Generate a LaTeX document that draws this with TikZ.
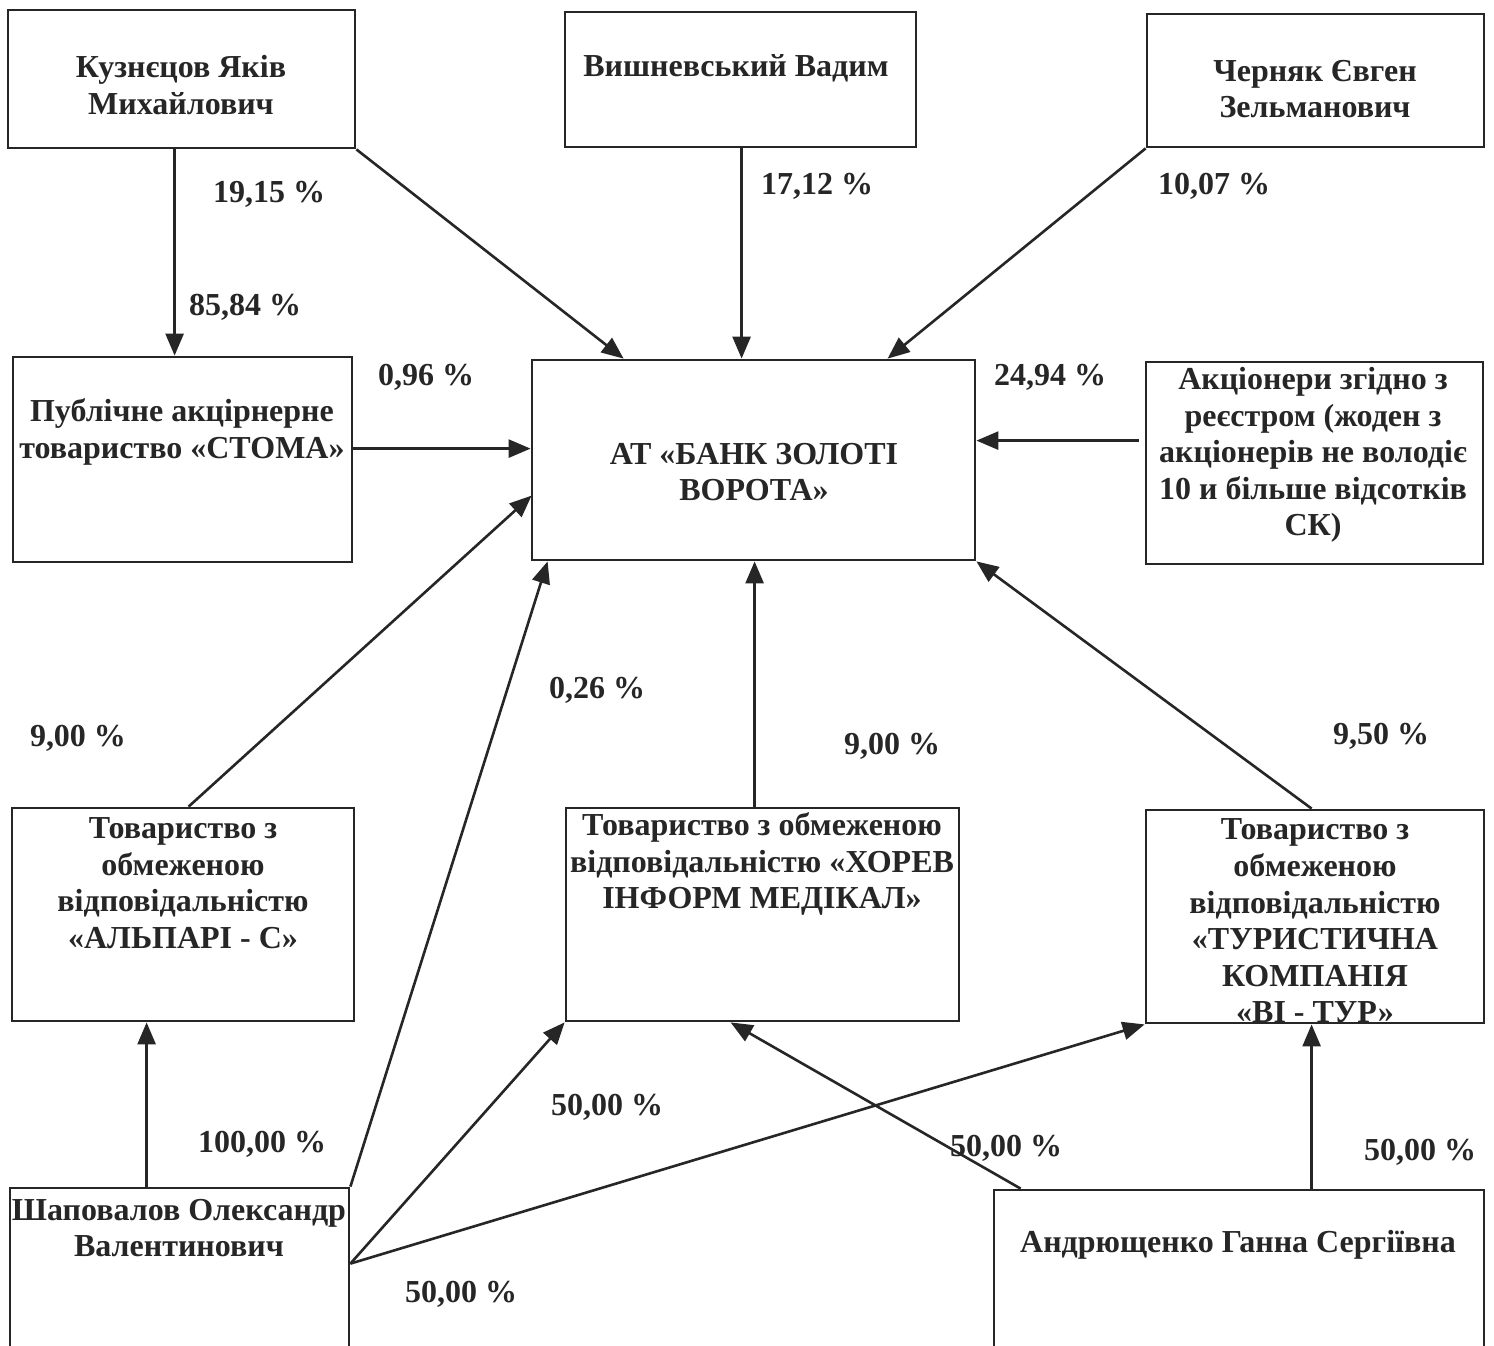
\documentclass[tikz,border=0pt]{standalone}
\usepackage{fontspec}
\setmainfont{Liberation Serif}
\usetikzlibrary{fit,calc,arrows.meta}
\begin{document}
\begin{tikzpicture}[x=0.5pt,y=-0.5pt,
  box/.style={draw=black!85, line width=1.4pt, inner sep=0pt},
  txt/.style={align=center, font=\bfseries\fontsize{16}{18.3}\selectfont, text=black!85, inner sep=0pt},
  pct/.style={font=\bfseries\fontsize{16}{18}\selectfont, text=black!85, inner sep=0pt},
  arr/.style={draw=black!85, line width=1.3pt, -{Triangle[length=11pt,width=9pt]}},
  ln/.style={draw=black!85, line width=1.3pt}]
\useasboundingbox (0,0) rectangle (1494,1345);
\fill[white] (0,0) rectangle (1494,1345);
% boxes
\node[box, fit={(8,10)(355,148)}] (kuz) {};
\node[box, fit={(565,12)(916,147)}] (vish) {};
\node[box, fit={(1147,14)(1484,147)}] (cher) {};
\node[box, fit={(13,357)(352,562)}] (stoma) {};
\node[box, fit={(532,360)(975,560)}] (bank) {};
\node[box, fit={(1146,362)(1483,564)}] (akc) {};
\node[box, fit={(12,808)(354,1021)}] (alp) {};
\node[box, fit={(566,808)(959,1021)}] (hor) {};
\node[box, fit={(1146,810)(1484,1023)}] (tur) {};
\node[box, fit={(10,1188)(349,1360)}] (shap) {};
\node[box, fit={(994,1190)(1484,1360)}] (andr) {};
% texts
\node[txt] (kuzT) at (181,85) {Кузнєцов Яків\\Михайлович};
\node[txt] (vishT) at (736,68) {Вишневський Вадим};
\node[txt] (cherT) at (1315,89) {Черняк Євген\\Зельманович};
\node[txt] (stomaT) at (182,432) {Публічне акцірнерне\\товариство «СТОМА»};
\node[txt] (bankT) at (754,472) {АТ «БАНК ЗОЛОТІ\\ВОРОТА»};
\node[txt] (akcT) at (1313,455) {Акціонери згідно з\\реєстром (жоден з\\акціонерів не володіє\\10 и більше відсотків\\СК)};
\node[txt] (alpT) at (183,883) {Товариство з\\обмеженою\\відповідальністю\\«АЛЬПАРІ - С»};
\node[txt] (horT) at (762,864) {Товариство з обмеженою\\відповідальністю «ХОРЕВ\\ІНФОРМ МЕДІКАЛ»};
\node[txt] (turT) at (1315,921) {Товариство з\\обмеженою\\відповідальністю\\«ТУРИСТИЧНА\\КОМПАНІЯ\\«ВІ - ТУР»};
\node[txt] (shapT) at (179,1228) {Шаповалов Олександр\\Валентинович};
\node[txt] (andrT) at (1238,1245) {Андрющенко Ганна Сергіївна};
% percentages
\node[pct] (p1) at (269,194) {19,15 \%};
\node[pct] (p2) at (245,307) {85,84 \%};
\node[pct] (p3) at (817,186) {17,12 \%};
\node[pct] (p4) at (1214,186) {10,07 \%};
\node[pct] (p5) at (426,377) {0,96 \%};
\node[pct] (p6) at (1050,377) {24,94 \%};
\node[pct] (p7) at (78,738) {9,00 \%};
\node[pct] (p8) at (597,690) {0,26 \%};
\node[pct] (p9) at (892,746) {9,00 \%};
\node[pct] (p10) at (1381,736) {9,50 \%};
\node[pct] (p11) at (262,1144) {100,00 \%};
\node[pct] (p12) at (607,1107) {50,00 \%};
\node[pct] (p13) at (1006,1148) {50,00 \%};
\node[pct] (p14) at (1420,1152) {50,00 \%};
\node[pct] (p15) at (461,1294) {50,00 \%};
% connectors
\draw[arr] ($(kuz.south west)+(168,0)$) -- ($(stoma.north west)+(163,0)$);
\draw[arr] (kuz.south east) -- ($(bank.north west)+(93,0)$);
\draw[arr] ($(vish.south west)+(178,0)$) -- ($(bank.north west)+(211,0)$);
\draw[arr] (cher.south west) -- ($(bank.north west)+(357,0)$);
\draw[arr] ($(stoma.north east)+(0,93)$) -- ($(bank.north west)+(0,90)$);
\draw[arr] ($(akc.north west)+(-6,80)$) -- ($(bank.north east)+(0,82)$);
\draw[arr] ($(alp.north west)+(178,0)$) -- ($(bank.north west)+(1,137)$);
\draw[arr] (shap.north east) -- ($(bank.south west)+(17,0)$);
\draw[arr] ($(hor.north west)+(190,0)$) -- ($(bank.south west)+(224,0)$);
\draw[arr] ($(tur.north west)+(167,0)$) -- (bank.south east);
\draw[arr] ($(shap.north west)+(138,0)$) -- ($(alp.south west)+(136,0)$);
\coordinate (shapR) at ($(shap.north east)+(0,77)$);
\draw[arr] (shapR) -- (hor.south west);
\draw[arr] (shapR) -- (tur.south west);
\draw[arr] ($(andr.north west)+(28,0)$) -- ($(hor.south west)+(166,0)$);
\draw[arr] ($(andr.north west)+(319,0)$) -- ($(tur.south west)+(167,0)$);
\end{tikzpicture}
\end{document}
